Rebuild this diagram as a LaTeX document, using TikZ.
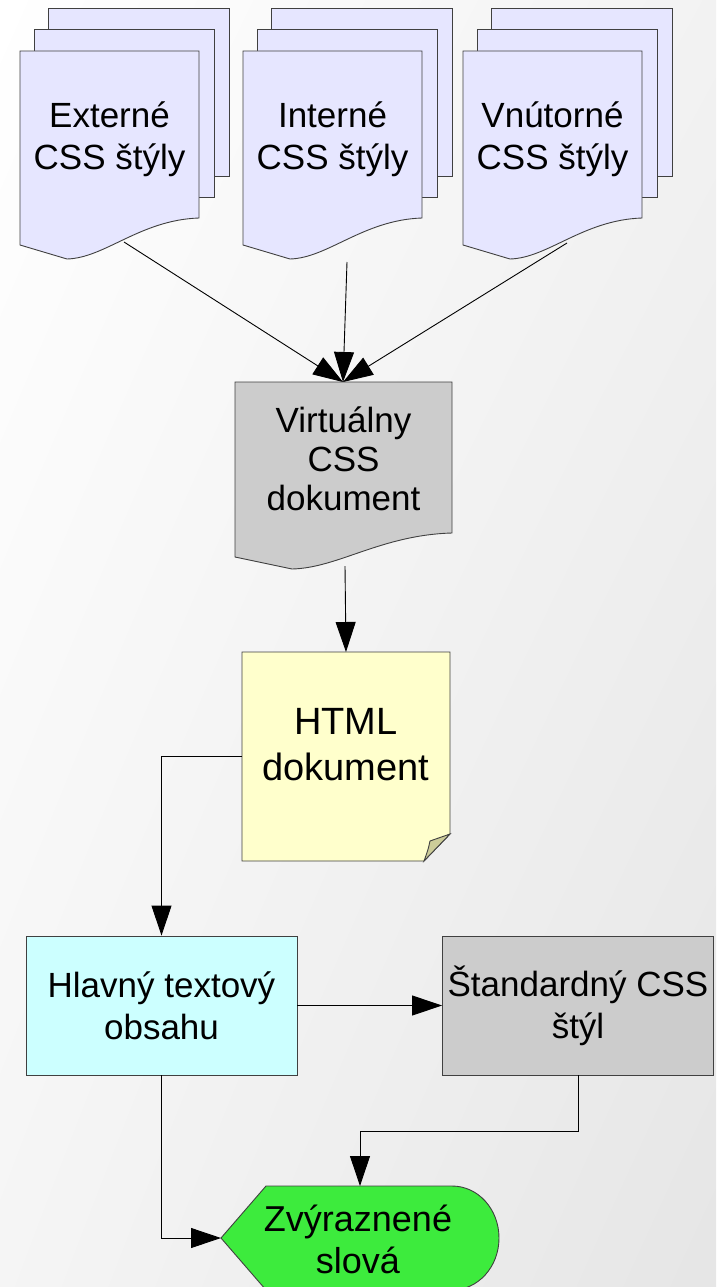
\documentclass[tikz,border=0pt]{standalone}
\usepackage{fontspec}
\setmainfont{Liberation Sans}
\usetikzlibrary{arrows.meta,shadings}

\definecolor{docblue}{HTML}{E6E6FF}
\definecolor{docgray}{HTML}{CCCCCC}
\definecolor{noteyellow}{HTML}{FFFFCC}
\definecolor{notefold}{HTML}{CCCC99}
\definecolor{boxcyan}{HTML}{CCFFFF}
\definecolor{dispgreen}{RGB}{61,235,61}

\begin{document}
\begin{tikzpicture}[x=1pt,y=-1pt,
    docline/.style={draw=black!75,line width=0.9pt},
    txt/.style={align=center,inner sep=0pt,font=\fontsize{35}{42}\selectfont},
    arr/.style={draw=black,line width=0.9pt,-{Triangle[length=30pt,width=20pt]}},
    procbox/.style={docline,minimum width=271pt,minimum height=139pt}]
  % Background
  \useasboundingbox (0,0) rectangle (716,1287);
  \shade[upper left=white,upper right=black!5,lower left=black!4,lower right=black!10]
    (0,0) rectangle (716,1287);

  % Stacked CSS documents
  \foreach \gx/\name/\sy/\txt in {20/ext/242/{Externé\\CSS štýly},
                                  243/int/262/{Interné\\CSS štýly},
                                  463/vnu/243/{Vnútorné\\CSS štýly}}{
    \filldraw[docline,fill=docblue] (\gx+28,8) rectangle ++(181,168);
    \filldraw[docline,fill=docblue] (\gx+14,29) rectangle ++(180,168);
    \begin{scope}[shift={(\gx,51)}]
      \filldraw[docline,fill=docblue] (0,0) -- (179,0) -- (179,167)
        .. controls (120,169) and (85,207) .. (47,208) -- (0,194) -- cycle;
    \end{scope}
    \node[txt] (\name) at (\gx+89.5,139) {\txt};
    \coordinate (\name-out) at (\gx+104,\sy);
  }

  % Virtual CSS document
  \begin{scope}[shift={(235,382)}]
    \filldraw[docline,fill=docgray] (0,0) -- (217,0) -- (217,151)
      .. controls (146,153) and (103,186) .. (57,187) -- (0,175) -- cycle;
  \end{scope}
  \node[txt,font=\fontsize{35}{39}\selectfont] (virt) at (343.5,459) {Virtuálny\\CSS\\dokument};
  \coordinate (virt-in) at (343,382);
  \coordinate (virt-out) at (345,566);

  % HTML document (note)
  \filldraw[docline,fill=noteyellow] (242,652) -- (450,652) -- (450,834) -- (424,861)
    -- (242,861) -- cycle;
  \filldraw[docline,fill=notefold] (424,861) .. controls (428,850) .. (430,841)
    .. controls (440,838) .. (450,834) -- cycle;
  \node[txt,font=\fontsize{38}{46}\selectfont] (html) at (346,745) {HTML\\dokument};
  \coordinate (html-in) at (346,652);
  \coordinate (html-out) at (242,756);

  % Process boxes
  \node[procbox,fill=boxcyan,txt] (hlav) at (161.5,1005.5) {Hlavný textový\\obsahu};
  \node[procbox,fill=docgray,txt] (std) at (578,1005.5) {Štandardný CSS\\štýl};

  % Display shape
  \filldraw[docline,fill=dispgreen] (221,1238) -- (266,1186) -- (452,1186)
    .. controls (478,1186) and (499,1209) .. (499,1238)
    .. controls (499,1267) and (478,1290) .. (452,1290) -- (266,1290) -- cycle;
  \node[txt,font=\fontsize{36}{42}\selectfont] (zv) at (358,1239) {Zvýraznené\\slová};
  \coordinate (zv-top) at (360,1186);
  \coordinate (zv-left) at (221,1238);

  % Connectors
  \foreach \name in {ext,int,vnu}
    \draw[arr] (\name-out) -- (virt-in);
  \draw[arr] (virt-out) -- (html-in);
  \draw[arr] (html-out) -| (hlav.north);
  \draw[arr] (hlav.east) -- (std.west);
  \draw[arr] (std.south) -- ++(0,56) -| (zv-top);
  \draw[arr] (hlav.south) |- (zv-left);
\end{tikzpicture}
\end{document}
